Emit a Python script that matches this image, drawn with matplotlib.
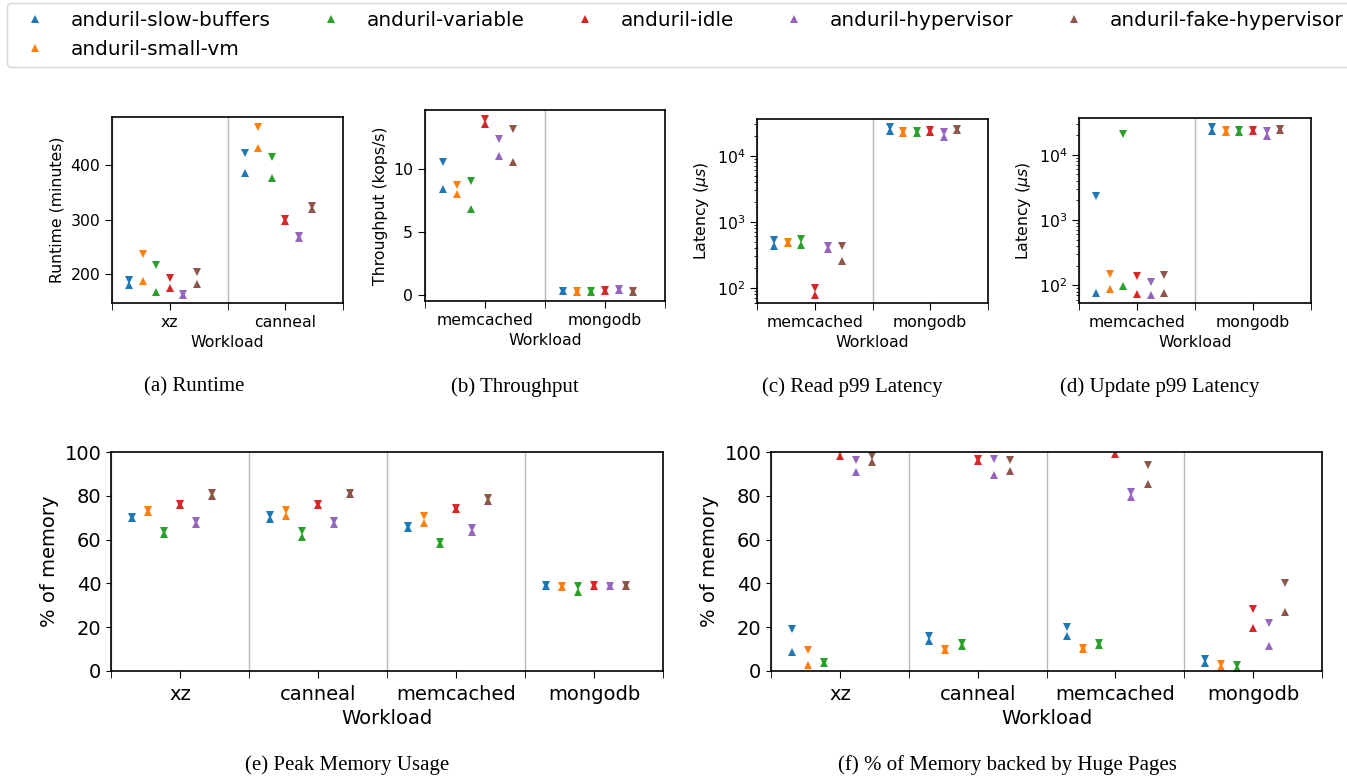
import numpy as np
import matplotlib.pyplot as plt
from matplotlib.ticker import MultipleLocator

W, H = 1347, 779

configs = ["anduril-slow-buffers", "anduril-small-vm", "anduril-variable",
           "anduril-idle", "anduril-hypervisor", "anduril-fake-hypervisor"]
colors = ['tab:blue', 'tab:orange', 'tab:green', 'tab:red', 'tab:purple', 'tab:brown']

# each row is one workload, columns follow `configs`
# (a) runtime in minutes
runtime_wl = ["xz", "canneal"]
runtime_max = [[190, 236, 216, 193, 163, 203],
               [422, 470, 415, 301, 269, 324]]
runtime_min = [[180, 188, 168, 175, 161, 182],
               [385, 432, 376, 298, 266, 320]]

# (b) throughput in kops/s
tput_wl = ["memcached", "mongodb"]
tput_max = [[10.6, 8.76, 9.07, 14.0, 12.4, 13.2],
            [0.38, 0.33, 0.33, 0.43, 0.47, 0.34]]
tput_min = [[8.47, 8.04, 6.83, 13.55, 11.06, 10.6],
            [0.32, 0.28, 0.27, 0.38, 0.42, 0.27]]

# (c) read p99 latency in us
read_wl = ["memcached", "mongodb"]
read_max = [[527, 498, 558, 98, 428, 428],
            [26800, 23700, 23700, 24500, 23100, 25100]]
read_min = [[433, 470, 443, 79, 381, 253],
            [23700, 21800, 21800, 23100, 19400, 24500]]

# (d) update p99 latency in us
upd_wl = ["memcached", "mongodb"]
upd_max = [[2340, 151, 20800, 137, 112, 146],
           [26600, 23700, 23700, 24300, 22800, 24800]]
upd_min = [[76, 87, 99, 73, 72, 77],
           [23400, 22100, 22100, 23400, 19600, 24300]]

# (e) peak memory usage, % of memory
mem_wl = ["xz", "canneal", "memcached", "mongodb"]
mem_max = [[70.3, 73.6, 63.7, 76.2, 68.3, 81.3],
           [71.3, 73.6, 63.7, 76.2, 68.3, 81.3],
           [66.0, 70.6, 59.1, 74.4, 65.5, 79.0],
           [39.2, 39.0, 38.9, 39.3, 39.0, 39.3]]
mem_min = [[69.7, 72.4, 62.5, 75.8, 67.2, 79.7],
           [69.4, 70.9, 61.1, 75.6, 67.1, 80.8],
           [65.2, 67.8, 58.1, 73.9, 63.3, 77.4],
           [38.6, 38.3, 36.0, 38.6, 38.9, 38.6]]

# (f) % of memory backed by huge pages
huge_wl = ["xz", "canneal", "memcached", "mongodb"]
huge_max = [[19.1, 9.6, 4.3, 100, 96.5, 98.0],
            [16.0, 10.1, 13.0, 96.8, 97.0, 96.5],
            [20.3, 10.7, 12.7, 100, 81.6, 94.2],
            [5.5, 3.2, 2.7, 28.4, 21.8, 40.1]]
huge_min = [[8.8, 2.7, 3.8, 98.4, 90.9, 95.3],
            [13.9, 9.6, 11.4, 96.0, 89.6, 91.5],
            [16.0, 9.9, 12.0, 99.2, 79.3, 85.4],
            [3.5, 2.0, 1.5, 19.5, 11.6, 27.1]]

offsets = -0.35 + np.arange(6) * 0.7 / 6


def add_ax(fig, left, right, top, bottom):
    return fig.add_axes([left / W, 1 - bottom / H, (right - left) / W, (bottom - top) / H])


def draw(ax, workloads, vmax, vmin, fs):
    x = np.arange(len(workloads))
    for i, c in enumerate(colors):
        ax.plot(x + offsets[i], [v[i] for v in vmax], 'v', color=c, ms=5.2, mew=0)
        ax.plot(x + offsets[i], [v[i] for v in vmin], '^', color=c, ms=5.2, mew=0,
                label=configs[i])
    ax.set_xlim(-0.5, len(workloads) - 0.5)
    ax.set_xticks(x)
    ax.set_xticklabels(workloads)
    ax.set_xticks(np.arange(len(workloads) + 1) - 0.5, minor=True)
    ax.grid(True, which='minor', axis='x', color='#b8b8b8', lw=1)
    ax.tick_params(which='both', labelsize=fs)
    ax.tick_params(axis='x', which='both', length=5)
    ax.set_xlabel('Workload', fontsize=fs)
    for s in ax.spines.values():
        s.set_linewidth(1.2)


fig = plt.figure(figsize=(W / 100, H / 100), dpi=100)
fs_top = 11.3
fs_bot = 14

ax_a = add_ax(fig, 112, 343, 117, 303)
draw(ax_a, runtime_wl, runtime_max, runtime_min, fs_top)
ax_a.set_ylim(147, 488)
ax_a.yaxis.set_major_locator(MultipleLocator(100))
ax_a.set_ylabel('Runtime (minutes)', fontsize=fs_top)

ax_b = add_ax(fig, 425, 665, 110, 301)
draw(ax_b, tput_wl, tput_max, tput_min, fs_top)
ax_b.set_ylim(-0.45, 14.7)
ax_b.yaxis.set_major_locator(MultipleLocator(5))
ax_b.set_ylabel('Throughput (kops/s)', fontsize=fs_top)

ax_c = add_ax(fig, 757, 988, 119, 303)
draw(ax_c, read_wl, read_max, read_min, fs_top)
ax_c.set_yscale('log')
ax_c.set_ylim(59, 35900)
ax_c.set_ylabel(r'Latency ($\mu s$)', fontsize=fs_top)

ax_d = add_ax(fig, 1079, 1311, 118, 303)
draw(ax_d, upd_wl, upd_max, upd_min, fs_top)
ax_d.set_yscale('log')
ax_d.set_ylim(53.5, 36600)
ax_d.set_ylabel(r'Latency ($\mu s$)', fontsize=fs_top)

ax_e = add_ax(fig, 111, 663, 452, 671)
draw(ax_e, mem_wl, mem_max, mem_min, fs_bot)
ax_e.set_ylim(0, 100)
ax_e.set_ylabel('% of memory', fontsize=fs_bot)
ax_e.tick_params(axis='x', pad=5)

ax_f = add_ax(fig, 771, 1322, 452, 671)
draw(ax_f, huge_wl, huge_max, huge_min, fs_bot)
ax_f.set_ylim(0, 100)
ax_f.set_ylabel('% of memory', fontsize=fs_bot)
ax_f.tick_params(axis='x', pad=5)

for ax in (ax_a, ax_b, ax_c, ax_d):
    ax.tick_params(axis='y', which='major', length=5)

captions = [("(a) Runtime", 194, 387), ("(b) Throughput", 515, 387),
            ("(c) Read p99 Latency", 852, 387), ("(d) Update p99 Latency", 1160, 387),
            ("(e) Peak Memory Usage", 347, 765),
            ("(f) % of Memory backed by Huge Pages", 1007, 765)]
for txt, cx, cy in captions:
    fig.text(cx / W, 1 - cy / H, txt, ha='center', va='center',
             family='Liberation Serif', fontsize=15)

handles, labels = ax_a.get_legend_handles_labels()
fig.legend(handles, labels, loc='upper left', bbox_to_anchor=(7 / W, 1 - 3 / H),
           ncol=5, fontsize=14.4, borderaxespad=0)

fig.savefig('out.png', dpi=100)
